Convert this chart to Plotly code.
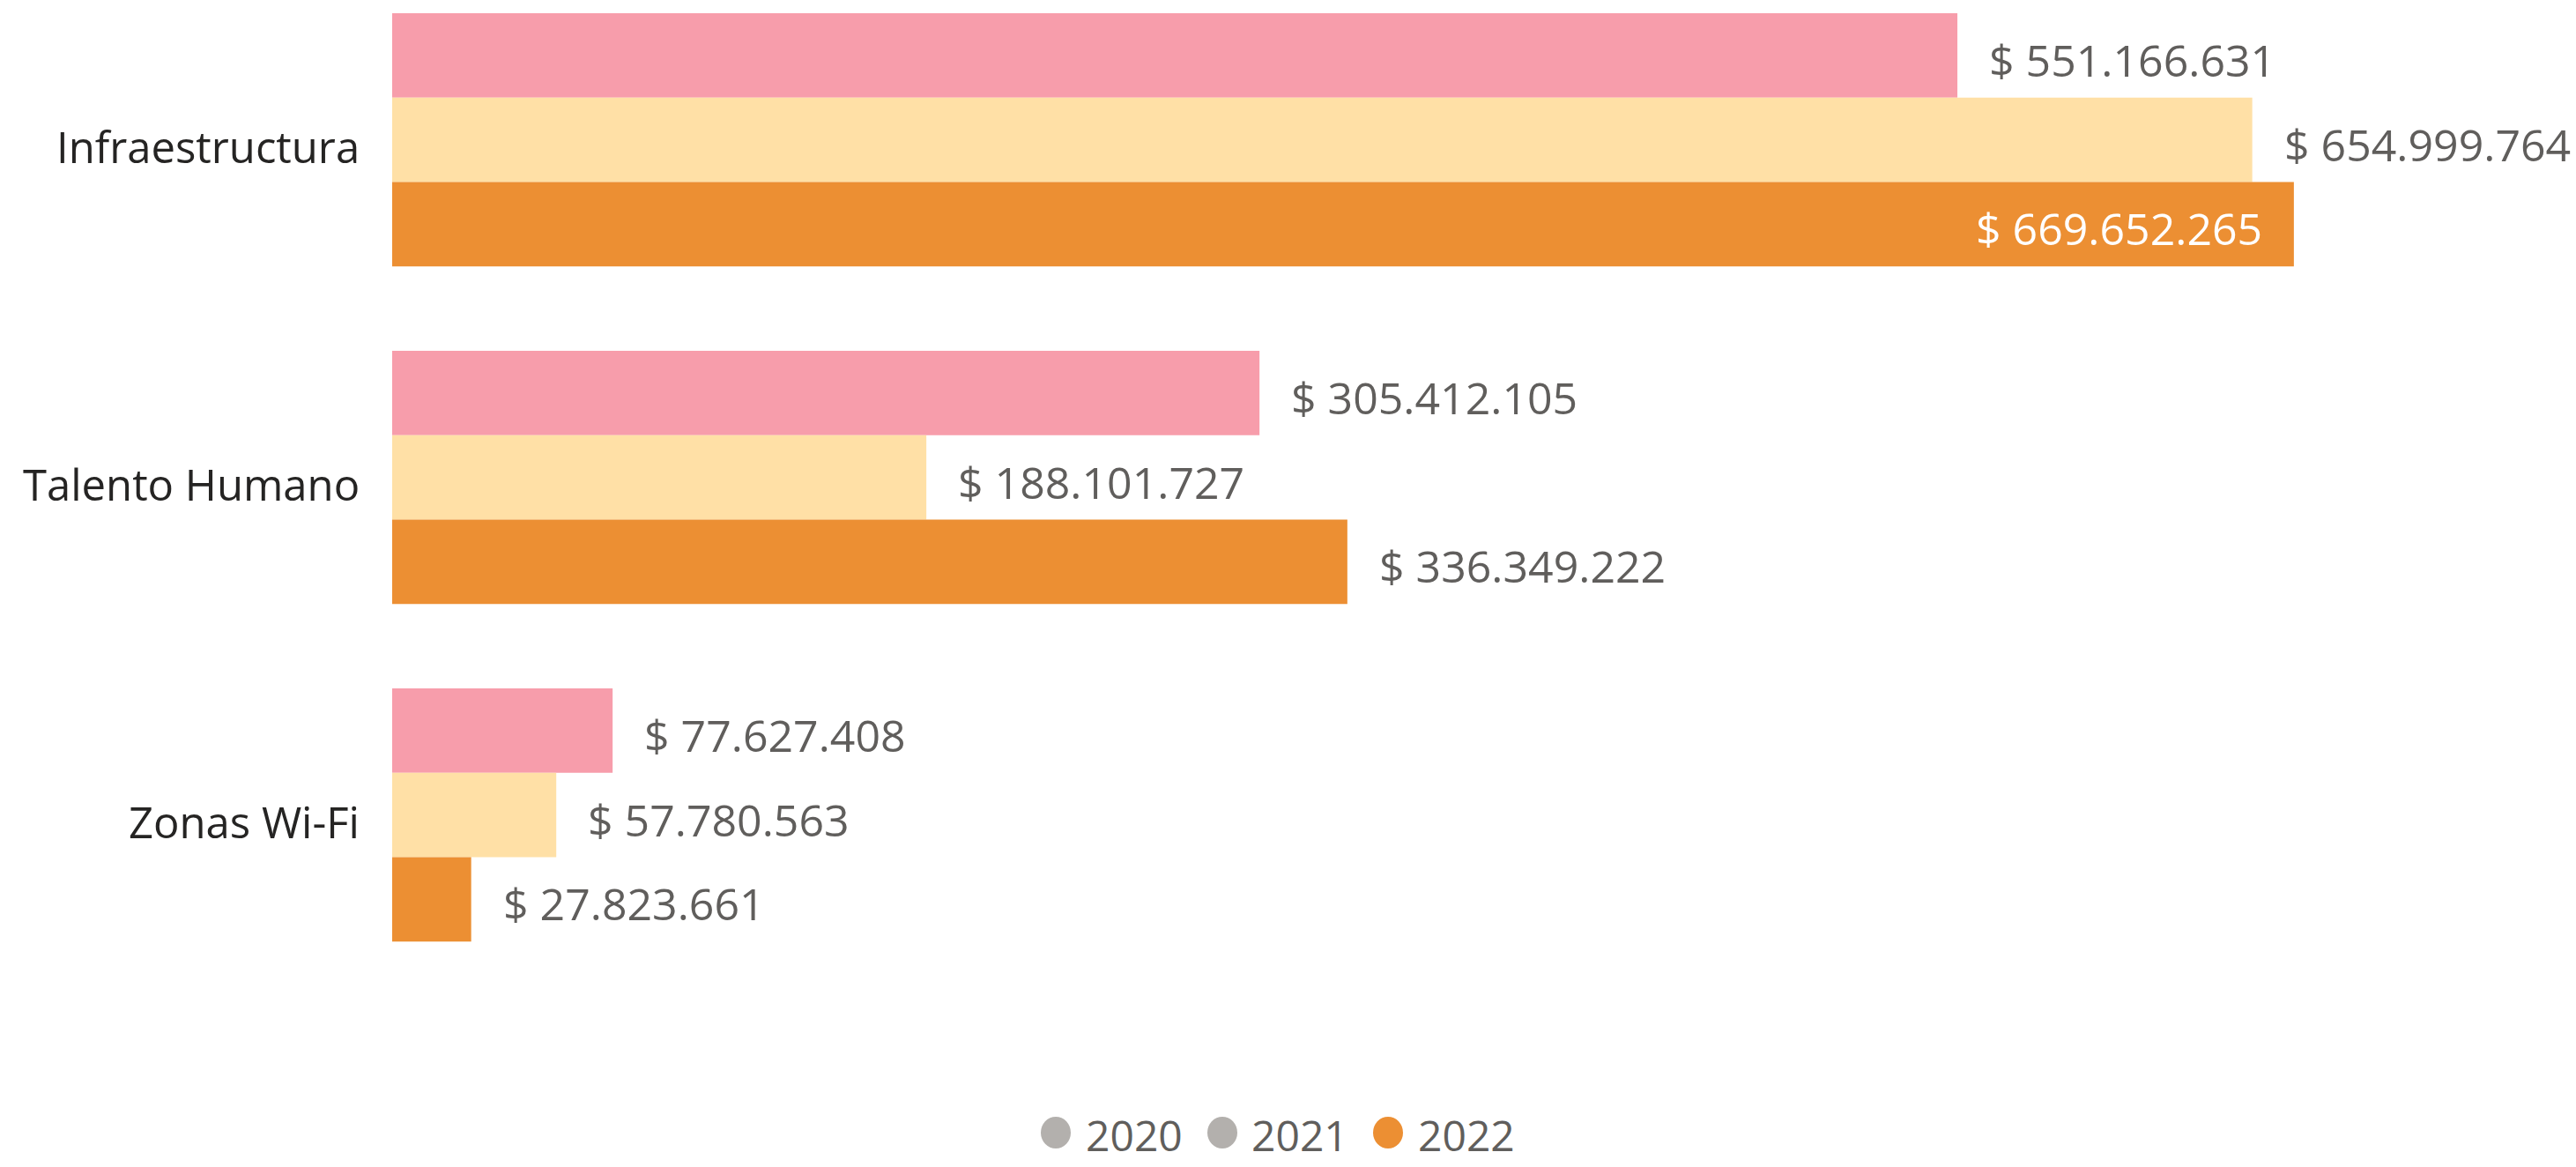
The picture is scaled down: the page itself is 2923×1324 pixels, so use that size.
import plotly.graph_objects as go

# Budget execution by line, per year (COP)
categories = ["Infraestructura", "Talento Humano", "Zonas Wi-Fi"]
years = ["2020", "2021", "2022"]
values_2020 = [551166631, 305412105, 77627408]
values_2021 = [654999764, 188101727, 57780563]
values_2022 = [669652265, 336349222, 27823661]

series = {"2020": values_2020, "2021": values_2021, "2022": values_2022}
bar_colors = {"2020": "#F79DAB", "2021": "#FFE0A6", "2022": "#EC8F33"}
legend_colors = {"2020": "#B3B0AD", "2021": "#B3B0AD", "2022": "#EC8F33"}

FONT = "Open Sans"
LABEL_GRAY = "#605E5C"
W, H = 2923, 1324
L, R, T, B = 445, 0, 0, 144
plot_w = W - L - R
plot_h = H - T - B


def money(v):
    return "$ " + f"{v:,}".replace(",", ".")


fig = go.Figure()
for yr in years:
    fig.add_trace(go.Bar(
        y=categories,
        x=series[yr],
        name=yr,
        orientation="h",
        marker=dict(color=bar_colors[yr], line=dict(width=0)),
        showlegend=False,
        hoverinfo="skip",
    ))

# Value labels: white inside the widest bar, gray outside for the rest
x_max = 769e6
largest = max(max(s) for s in series.values())
annotations = []
offsets = {"2020": -1, "2021": 0, "2022": 1}
for yr in years:
    for i, v in enumerate(series[yr]):
        inside = v == largest
        annotations.append(dict(
            x=v, y=i + offsets[yr] * 0.25,
            xref="x", yref="y",
            text=money(v),
            showarrow=False,
            xanchor="right" if inside else "left",
            xshift=-34 if inside else 34,
            yshift=-5,
            font=dict(family=FONT, size=50, color="#FFFFFF" if inside else LABEL_GRAY),
        ))

# Category names to the left of each bar group
for i, cat in enumerate(categories):
    annotations.append(dict(
        x=0, y=i, xref="paper", yref="y",
        text=cat, showarrow=False,
        xanchor="right", xshift=-35, yshift=-7,
        font=dict(family=FONT, size=49, color="#252423"),
    ))

# Legend row drawn below the plot
shapes = []
legend_items = [("2020", 1198, 1230), ("2021", 1387, 1418), ("2022", 1575, 1607)]
ly = (plot_h - (1287 - T)) / plot_h
for yr, cx, tx in legend_items:
    shapes.append(dict(
        type="circle", xref="paper", yref="paper",
        xsizemode="pixel", ysizemode="pixel",
        xanchor=(cx - L) / plot_w, yanchor=ly + 2 / plot_h,
        x0=-17, x1=17, y0=-18, y1=18,
        fillcolor=legend_colors[yr], line=dict(width=0),
    ))
    annotations.append(dict(
        x=(tx - L) / plot_w, y=ly, xref="paper", yref="paper",
        text=yr, showarrow=False, xanchor="left", yanchor="middle",
        font=dict(family=FONT, size=48, color=LABEL_GRAY),
    ))

fig.update_layout(
    width=W, height=H,
    margin=dict(l=L, r=R, t=T, b=B, pad=0),
    paper_bgcolor="white",
    plot_bgcolor="white",
    barmode="group",
    bargap=0.25,
    bargroupgap=0,
    showlegend=False,
    annotations=annotations,
    shapes=shapes,
    xaxis=dict(
        range=[0, x_max],
        visible=False,
        showgrid=False,
        zeroline=False,
        fixedrange=True,
    ),
    yaxis=dict(
        type="category",
        range=[2.667, -0.414],
        showgrid=False,
        zeroline=False,
        showline=False,
        ticks="",
        showticklabels=False,
    ),
)

fig.write_html("out.html")
